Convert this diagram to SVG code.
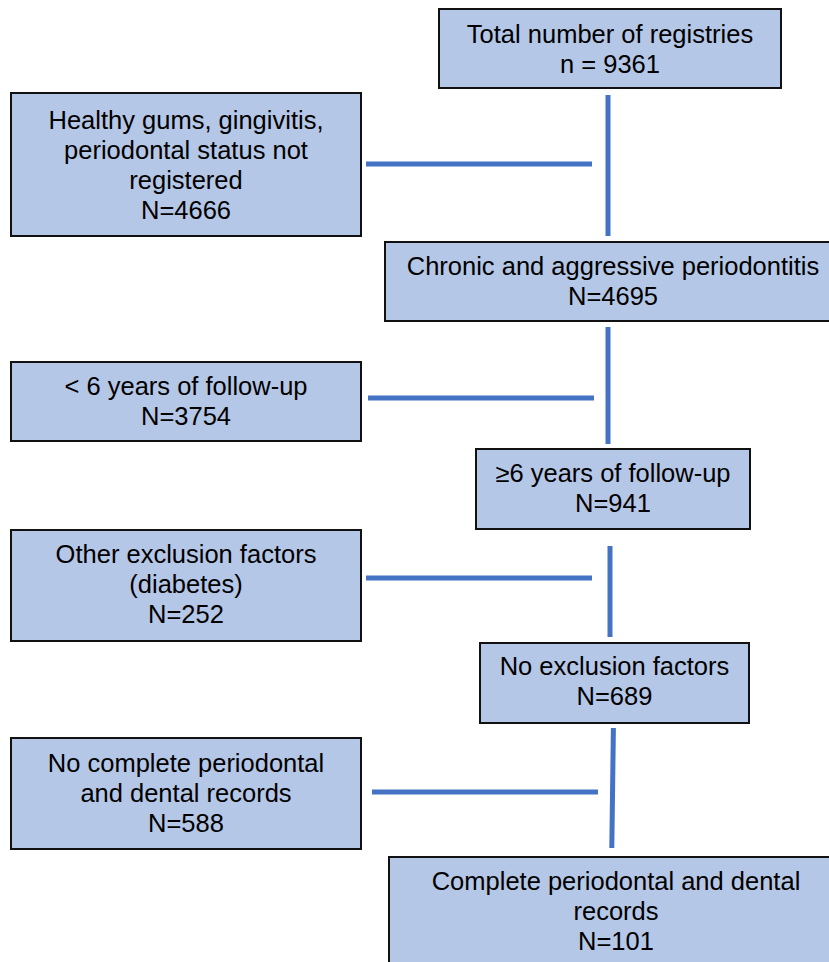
<svg xmlns="http://www.w3.org/2000/svg" width="829" height="962" viewBox="0 0 829 962">
<style>
.box{fill:#B4C7E7;stroke:#111;stroke-width:2}
.t{font-family:"Liberation Sans",Arial,sans-serif;font-size:25.5px;fill:#000;text-anchor:middle}
.c{stroke:#4472C4;stroke-width:5;fill:none}
</style>
<rect x="0" y="0" width="829" height="962" fill="#fff"/>
<g id="connectors">
<line class="c" x1="608" y1="95" x2="608" y2="236"/>
<line class="c" x1="366" y1="164" x2="592" y2="164"/>
<line class="c" x1="608" y1="327" x2="608" y2="444"/>
<line class="c" x1="368" y1="398" x2="594" y2="398"/>
<line class="c" x1="610" y1="546" x2="610" y2="637"/>
<line class="c" x1="366" y1="578" x2="592" y2="578"/>
<line class="c" x1="613.4" y1="728" x2="611.8" y2="848"/>
<line class="c" x1="372" y1="792" x2="598" y2="792"/>
</g>
<g id="n1"><rect class="box" x="439" y="9" width="342" height="79"/>
<text class="t" x="610" y="43">Total number of registries</text><text class="t" x="610" y="73">n = 9361</text></g>
<g id="n2"><rect class="box" x="11" y="93" width="350" height="143"/>
<text class="t" x="186" y="129">Healthy gums, gingivitis,</text><text class="t" x="186" y="159">periodontal status not</text><text class="t" x="186" y="189">registered</text><text class="t" x="186" y="219">N=4666</text></g>
<g id="n3"><rect class="box" x="385" y="242" width="460" height="79"/>
<text class="t" x="613" y="275">Chronic and aggressive periodontitis</text><text class="t" x="613" y="305">N=4695</text></g>
<g id="n4"><rect class="box" x="11" y="362" width="350" height="79"/>
<text class="t" x="186" y="395">&lt; 6 years of follow-up</text><text class="t" x="186" y="425">N=3754</text></g>
<g id="n5"><rect class="box" x="476" y="449" width="274" height="80"/>
<text class="t" x="613" y="482">≥6 years of follow-up</text><text class="t" x="613" y="512">N=941</text></g>
<g id="n6"><rect class="box" x="11" y="530" width="350" height="111"/>
<text class="t" x="186" y="563">Other exclusion factors</text><text class="t" x="186" y="593">(diabetes)</text><text class="t" x="186" y="623">N=252</text></g>
<g id="n7"><rect class="box" x="480" y="643" width="269" height="80"/>
<text class="t" x="614.5" y="675">No exclusion factors</text><text class="t" x="614.5" y="705">N=689</text></g>
<g id="n8"><rect class="box" x="11" y="738" width="350" height="111"/>
<text class="t" x="186" y="772">No complete periodontal</text><text class="t" x="186" y="802">and dental records</text><text class="t" x="186" y="832">N=588</text></g>
<g id="n9"><rect class="box" x="389" y="857" width="460" height="120"/>
<text class="t" x="616" y="890">Complete periodontal and dental</text><text class="t" x="616" y="920">records</text><text class="t" x="616" y="950">N=101</text></g>
</svg>
